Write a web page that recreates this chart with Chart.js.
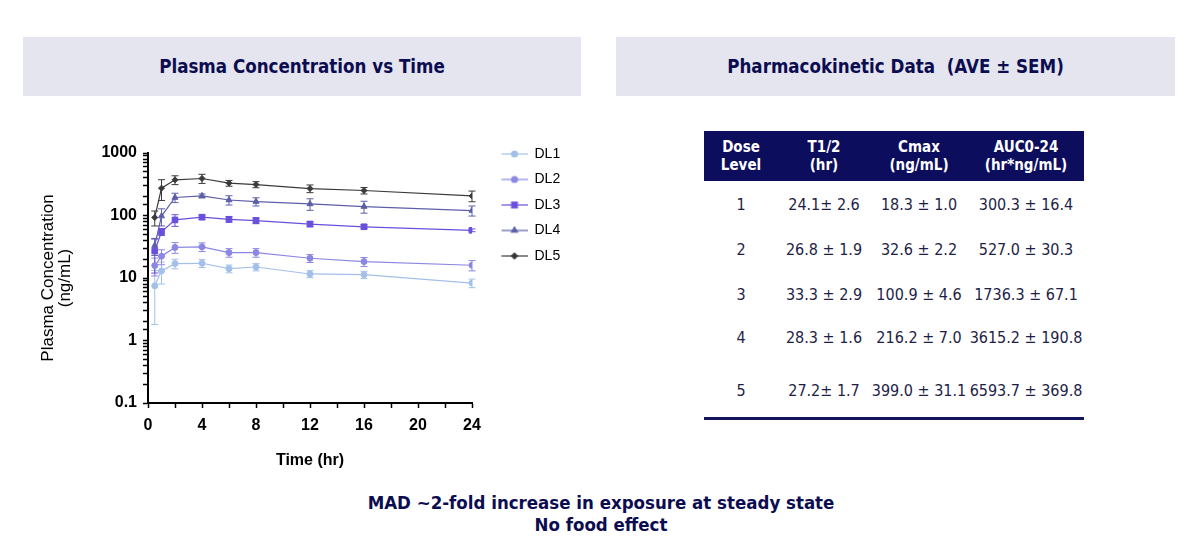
<!DOCTYPE html>
<html>
<head>
<meta charset="utf-8">
<script src="https://cdn.jsdelivr.net/npm/chart.js@4.4.1/dist/chart.umd.min.js"></script>
<style>
  body { margin: 0; width: 1202px; height: 552px; background: #fff; position: relative; overflow: hidden;
         font-family: "DejaVu Sans Condensed", "DejaVu Sans", sans-serif; }
  .hdr { position: absolute; top: 37px; height: 59px; background: #e4e5ee; color: #0c0c50;
         font-weight: bold; font-size: 18.6px; display: flex; align-items: center; justify-content: center; }
  #chartBox { position: absolute; left: 0; top: 130px; width: 600px; height: 350px; }
  #pkTable { position: absolute; left: 704px; top: 131px; width: 380px; border-collapse: collapse; table-layout: fixed; }
  #pkTable th { background: #0d0d5e; color: #fff; font-weight: bold; font-size: 15px; line-height: 18px; height: 50px; padding: 0; }
  #pkTable td { color: #1e1e46; font-size: 16px; text-align: center; padding: 0; white-space: nowrap; }
  #pkTable tbody tr:last-child td { border-bottom: 3px solid #14145e; padding-top: 5px; }
  .note { position: absolute; left: 0; width: 1202px; text-align: center; color: #0c0c50; font-weight: bold; font-size: 18.5px; }
</style>
</head>
<body>
<div class="hdr" style="left:23px;width:558px;">Plasma Concentration vs Time</div>
<div class="hdr" style="left:616px;width:559px;">Pharmacokinetic Data&nbsp; (AVE ± SEM)</div>

<div id="chartBox"><canvas id="pkChart"></canvas></div>

<table id="pkTable">
  <colgroup><col style="width:74px"><col style="width:92px"><col style="width:98px"><col style="width:116px"></colgroup>
  <thead><tr id="headRow"></tr></thead>
  <tbody id="bodyRows"></tbody>
</table>

<div class="note" style="top:492px;">MAD ~2-fold increase in exposure at steady state</div>
<div class="note" style="top:514px;">No food effect</div>

<script>
// time points (hr)
const times = [0.5, 1, 2, 4, 6, 8, 12, 16, 24];

// mean plasma concentration (ng/mL) and SEM per dose level
const dl1 = [7.5, 13, 17, 17.2, 14.1, 15, 11.6, 11.3, 8.3];
const dl1Sem = [5.7, 5, 3, 2.5, 2, 2, 1.5, 1.5, 1.3];
const dl2 = [15.8, 22.3, 30.8, 31.5, 25.5, 25.5, 20.7, 18.3, 16];
const dl2Sem = [5, 6, 6, 5, 4, 4, 3, 3, 3];
const dl3 = [27, 55, 85, 94, 87, 83, 73, 66, 58];
const dl3Sem = [15, 7, 18, 8, 9, 9, 7, 5, 3];
const dl4 = [33, 98, 194, 206, 177, 167, 153, 139, 120];
const dl4Sem = [10, 30, 33, 15, 30, 25, 32, 30, 22];
const dl5 = [93, 274, 372, 391, 329, 313, 270, 251, 206];
const dl5Sem = [25, 100, 60, 65, 35, 35, 38, 30, 40];

const seriesNames = ['DL1', 'DL2', 'DL3', 'DL4', 'DL5'];

// axis ticks
const yTickValues = [0.1, 1, 10, 100, 1000];
const yTickLabels = ['0.1', '1', '10', '100', '1000'];
const xTickValues = [0, 4, 8, 12, 16, 20, 24];
const xTickLabels = ['0', '4', '8', '12', '16', '20', '24'];

// PK table
const tableHeaders = [['Dose', 'Level'], ['T1/2', '(hr)'], ['Cmax', '(ng/mL)'], ['AUC0-24', '(hr*ng/mL)']];
const doseLevels = ['1', '2', '3', '4', '5'];
const halfLife = ['24.1± 2.6', '26.8 ± 1.9', '33.3 ± 2.9', '28.3 ± 1.6', '27.2± 1.7'];
const cmax = ['18.3 ± 1.0', '32.6 ± 2.2', '100.9 ± 4.6', '216.2 ± 7.0', '399.0 ± 31.1'];
const auc = ['300.3 ± 16.4', '527.0 ± 30.3', '1736.3 ± 67.1', '3615.2 ± 190.8', '6593.7 ± 369.8'];

// styles
const colors = ['#a3c0ea', '#8c87e2', '#6a4fdc', '#5c5fa8', '#3a3a3a'];
const pointStyles = ['circle', 'circle', 'rect', 'triangle', 'rectRot'];
const pointSizes = [3, 3, 4, 3.5, 3];
const rowHeights = [46, 45, 44, 43, 59];

// build table
const headRow = document.getElementById('headRow');
tableHeaders.forEach(h => {
  const th = document.createElement('th');
  th.innerHTML = h.join('<br>');
  headRow.appendChild(th);
});
const body = document.getElementById('bodyRows');
doseLevels.forEach((d, i) => {
  const tr = document.createElement('tr');
  tr.style.height = rowHeights[i] + 'px';
  [d, halfLife[i], cmax[i], auc[i]].forEach(v => {
    const td = document.createElement('td');
    td.textContent = v;
    tr.appendChild(td);
  });
  body.appendChild(tr);
});

// chart
Chart.defaults.font.family = '"Liberation Sans", Arial, sans-serif';

const means = [dl1, dl2, dl3, dl4, dl5];
const sems = [dl1Sem, dl2Sem, dl3Sem, dl4Sem, dl5Sem];

// legend sample: short line with the marker, shifted right inside a wider box
function legendIcon(i) {
  const c = document.createElement('canvas');
  c.width = 44; c.height = 10;
  const g = c.getContext('2d');
  g.strokeStyle = colors[i];
  g.fillStyle = colors[i];
  g.lineWidth = 1.2;
  g.beginPath(); g.moveTo(18, 5); g.lineTo(44, 5); g.stroke();
  Chart.helpers.drawPoint(g, {pointStyle: pointStyles[i], radius: pointSizes[i], borderWidth: 1}, 31, 5);
  return c;
}
const icons = seriesNames.map((n, i) => legendIcon(i));

const errorBars = {
  id: 'errorBars',
  beforeDatasetsDraw(chart) {
    const {ctx, scales: {x, y}} = chart;
    chart.data.datasets.forEach((ds, di) => {
      if (!chart.isDatasetVisible(di)) return;
      ctx.save();
      ctx.strokeStyle = ds.borderColor;
      ctx.lineWidth = 1;
      ds.data.forEach((p, i) => {
        const e = ds.errors[i];
        const px = x.getPixelForValue(p.x);
        const top = y.getPixelForValue(p.y + e);
        const bot = y.getPixelForValue(Math.max(p.y - e, 0.1));
        ctx.beginPath();
        ctx.moveTo(px, top); ctx.lineTo(px, bot);
        ctx.moveTo(px - 3.5, top); ctx.lineTo(px + 3.5, top);
        ctx.moveTo(px - 3.5, bot); ctx.lineTo(px + 3.5, bot);
        ctx.stroke();
      });
      ctx.restore();
    });
  }
};

const datasets = seriesNames.map((name, i) => ({
  label: name,
  data: times.map((t, k) => ({x: t, y: means[i][k]})),
  errors: sems[i],
  borderColor: colors[i],
  backgroundColor: colors[i],
  borderWidth: 1.2,
  pointStyle: pointStyles[i],
  pointRadius: pointSizes[i],
  pointBorderWidth: 1,
  tension: 0
}));

new Chart(document.getElementById('pkChart'), {
  type: 'line',
  data: {datasets},
  plugins: [errorBars],
  options: {
    responsive: true,
    maintainAspectRatio: false,
    animation: false,
    layout: {padding: {top: 5.5, right: 12, bottom: 0, left: 0}},
    scales: {
      x: {
        type: 'linear', min: 0, max: 24,
        border: {display: true, color: '#000', width: 2},
        grid: {drawOnChartArea: false, tickLength: 5, tickColor: '#000', tickWidth: 1.5},
        ticks: {
          stepSize: 2, autoSkip: false, maxRotation: 0, color: '#000', padding: 8,
          font: {size: 16, weight: 'bold'},
          callback: v => { const k = xTickValues.indexOf(v); return k >= 0 ? xTickLabels[k] : ''; }
        },
        title: {display: true, text: 'Time (hr)', color: '#000', font: {size: 16, weight: 'bold'}, padding: {top: 0, bottom: 10}},
        afterFit(s) { s.height = 77; s.paddingRight = 128; }
      },
      y: {
        type: 'logarithmic', min: 0.1, max: 1000,
        border: {display: true, color: '#000', width: 2},
        grid: {drawOnChartArea: false, tickLength: 5, tickColor: '#000', tickWidth: 1.5},
        ticks: {
          autoSkip: false, color: '#000', padding: 6,
          font: {size: 16, weight: 'bold'},
          callback: v => { const k = yTickValues.findIndex(t => Math.abs(t - v) < t * 1e-6); return k >= 0 ? yTickLabels[k] : ''; }
        },
        title: {display: true, text: ['Plasma Concentration', '(ng/mL)'], color: '#000', font: {size: 17, lineHeight: 1.0}, padding: {top: 40, bottom: 0}},
        afterFit(s) { s.width = 148; s.paddingTop = 23; }
      }
    },
    plugins: {
      legend: {
        position: 'right', align: 'start',
        labels: {
          usePointStyle: true, pointStyleWidth: 44, padding: 11.5, color: '#000',
          font: {size: 14},
          generateLabels: chart => chart.data.datasets.map((ds, i) => ({
            text: ds.label, pointStyle: icons[i], datasetIndex: i,
            hidden: !chart.isDatasetVisible(i), fontColor: '#000',
            lineWidth: 0, strokeStyle: 'transparent', fillStyle: 'transparent'
          }))
        }
      },
      tooltip: {enabled: false}
    }
  }
});
</script>
</body>
</html>
